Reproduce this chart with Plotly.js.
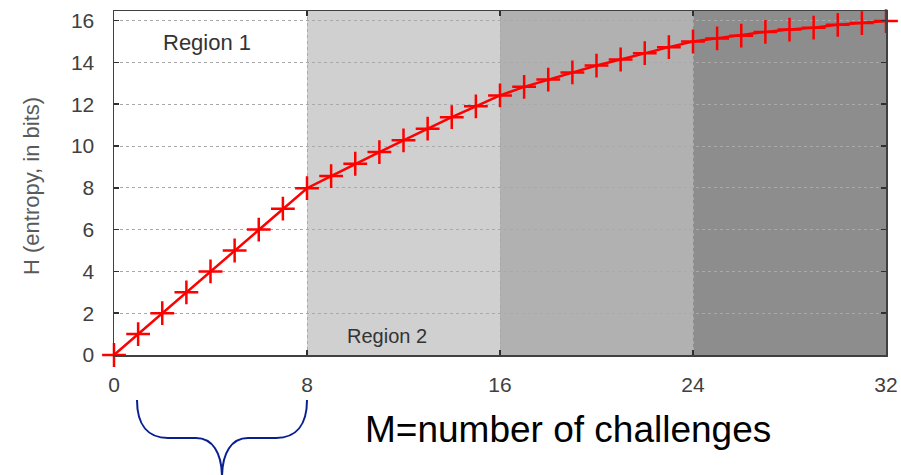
<!DOCTYPE html>
<html>
<head>
<meta charset="utf-8">
<script src="https://cdn.plot.ly/plotly-3.0.1.min.js"></script>
<style>html,body{margin:0;padding:0;background:#fff;}#chart{width:901px;height:475px;}</style>
</head>
<body>
<div id="chart"></div>
<script>
// Data
const challenges = [0,1,2,3,4,5,6,7,8,9,10,11,12,13,14,15,16,17,18,19,20,21,22,23,24,25,26,27,28,29,30,31,32];
const entropy = [0,1,2,3,4,5,6,7,7.98,8.56,9.15,9.71,10.27,10.83,11.38,11.9,12.42,12.83,13.18,13.52,13.85,14.14,14.44,14.73,15.0,15.15,15.28,15.46,15.57,15.66,15.8,15.88,15.98];
const regionEdges = [0,8,16,24,32];
const regionColors = ['#ffffff','#d0d0d0','#b1b1b1','#8d8d8d'];
const xTicks = [0,8,16,24,32];
const yTicks = [0,2,4,6,8,10,12,14,16];

const FONT = 'Liberation Sans, Arial, sans-serif';

const shapes = [];
for (let i = 0; i < regionColors.length; i++) {
  shapes.push({type:'rect', xref:'x', yref:'paper', x0:regionEdges[i], x1:regionEdges[i+1], y0:0, y1:1,
    fillcolor:regionColors[i], line:{width:0}, layer:'below'});
}
function px(x){ return (x-114)/772; }
function py(y){ return (355-y)/344; }
const bp = [
  'M', px(137), py(400),
  'C', px(137), py(425), px(148), py(438), px(168), py(438),
  'L', px(196), py(438),
  'C', px(212), py(438), px(222), py(452), px(222), py(478),
  'M', px(307), py(400),
  'C', px(307), py(425), px(296), py(438), px(276), py(438),
  'L', px(248), py(438),
  'C', px(232), py(438), px(222), py(452), px(222), py(478)
];
let path = '';
for (let i = 0; i < bp.length; ) {
  const c = bp[i++];
  const n = c === 'C' ? 3 : 1;
  path += c;
  for (let k = 0; k < n; k++) { path += ' ' + bp[i++] + ',' + bp[i++]; }
  path += ' ';
}
shapes.push({type:'path', xref:'paper', yref:'paper', path:path, line:{color:'#0a1f8f', width:2}, layer:'above'});

const trace = {
  x: challenges, y: entropy, mode:'lines+markers', type:'scatter',
  line:{color:'#ff0000', width:2.5},
  marker:{symbol:'cross-thin-open', size:17, line:{color:'#ff0000', width:2.5}},
  cliponaxis:false, hoverinfo:'skip'
};

function axisBase() {
  return {
    showline:true, linecolor:'#404040', linewidth:1.5, mirror:'ticks',
    ticks:'inside', ticklen:5, tickwidth:1.5, tickcolor:'#303030',
    showgrid:true, gridcolor:'#a9a9a9', griddash:'dot', gridwidth:1,
    zeroline:false, tickfont:{family:FONT, size:21, color:'#404040'}, fixedrange:true
  };
}

const layout = {
  width:901, height:475,
  margin:{l:114, r:15, t:11, b:120},
  paper_bgcolor:'#ffffff', plot_bgcolor:'rgba(0,0,0,0)',
  showlegend:false,
  xaxis: Object.assign(axisBase(), {range:[0,32], tickmode:'array', tickvals:xTicks, ticktext:xTicks.map(String), ticklabelstandoff:10}),
  yaxis: Object.assign(axisBase(), {range:[0,16.46], tickmode:'array', tickvals:yTicks, ticktext:yTicks.map(String), ticklabelstandoff:14}),
  shapes: shapes,
  annotations: [
    {text:'Region 1', xref:'paper', yref:'paper', x:px(207), y:py(42), xanchor:'center', yanchor:'middle', showarrow:false, font:{family:FONT, size:22, color:'#333333'}},
    {text:'Region 2', xref:'paper', yref:'paper', x:px(387), y:py(336), xanchor:'center', yanchor:'middle', showarrow:false, font:{family:FONT, size:20, color:'#333333'}},
    {text:'H (entropy, in bits)', xref:'paper', yref:'paper', x:px(31), y:py(186), xanchor:'center', yanchor:'middle', textangle:-90, showarrow:false, font:{family:FONT, size:22, color:'#5a5a5a'}},
    {text:'M=number of challenges', xref:'paper', yref:'paper', x:px(568), y:py(429), xanchor:'center', yanchor:'middle', showarrow:false, font:{family:FONT, size:37, color:'#000000'}}
  ]
};

Plotly.newPlot('chart', [trace], layout, {displayModeBar:false, staticPlot:true});
</script>
</body>
</html>
